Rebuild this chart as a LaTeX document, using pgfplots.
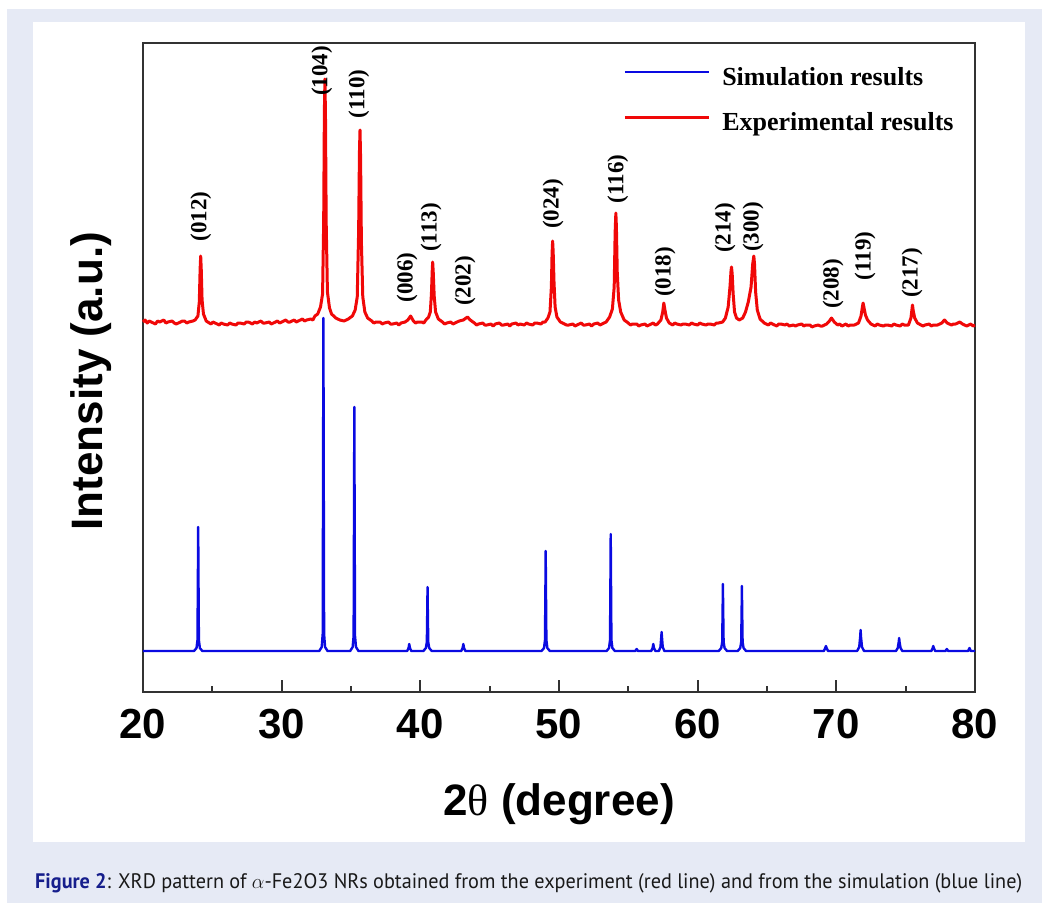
\documentclass[border=0pt]{standalone}
\usepackage{pgfplots}
\pgfplotsset{compat=1.18}
\usepackage{fontspec}
\usepackage{graphicx}
\setmainfont{Liberation Sans}
\newfontfamily\timesfont{Liberation Serif}
\newfontfamily\capfont{PT Sans}
\definecolor{bgblue}{RGB}{230,234,245}
\definecolor{figblue}{RGB}{22,30,140}
\definecolor{capgray}{RGB}{25,25,25}
\definecolor{xred}{RGB}{240,8,8}
\definecolor{xblue}{RGB}{10,10,225}
\definecolor{axgray}{RGB}{50,50,50}
\begin{document}
\begin{tikzpicture}[x=1pt,y=1pt]
\path[use as bounding box] (0,0) rectangle (1042,-903);
\fill[white] (0,0) rectangle (1042,-903);
\fill[bgblue] (7,-9) rectangle (1042,-903);
\fill[white] (33,-22) rectangle (1025,-842);
\begin{axis}[
  at={(143pt,-692pt)}, anchor=south west,
  scale only axis, width=832pt, height=649pt,
  xmin=20, xmax=80, ymin=0, ymax=649,
  axis line style={draw=axgray, line width=1.8pt},
  xtick={20,30,...,80}, minor xtick={25,35,...,75}, ytick=\empty,
  xtick pos=lower, tick align=inside,
  major tick length=12pt, minor tick length=6pt,
  every tick/.style={axgray, line width=1.8pt},
  /pgf/number format/assume math mode=true,
  xticklabel style={font=\bfseries\fontsize{42}{42}\selectfont, anchor=base, yshift=-46pt, inner sep=0pt},
  xlabel={\bfseries 2{\mdseries\timesfont θ} (degree)},
  xlabel style={font=\fontsize{44}{44}\selectfont, at={(axis description cs:0.5,0)}, anchor=base, yshift=-123pt},
  ylabel={\bfseries Intensity (a.u.)},
  ylabel style={font=\fontsize{44}{44}\selectfont, at={(axis description cs:-0.049,0.479)}, anchor=base, rotate=0},
  legend style={at={(axis description cs:0.577,0.963)}, anchor=north west, draw=none, fill=none,
    font=\timesfont\bfseries\fontsize{26}{26}\selectfont, inner sep=0pt, row sep=21pt, column sep=12pt,
    nodes={inner sep=0pt, text height=18pt, text depth=6pt}},
  legend cell align=left,
  legend image code/.code={\draw[#1] (0pt,7pt) -- (84pt,7pt);},
  clip=false,
]
\addplot[xblue, line width=2.4pt, line join=round] coordinates {
(20,41)
(23.68,41) (23.86,44) (23.93,52) (23.965,128) (23.98,165) (23.995,128) (24.03,52) (24.10,44) (24.28,41)
(32.71,41) (32.89,45) (32.96,58) (32.995,274) (33.01,374) (33.025,274) (33.06,58) (33.13,45) (33.31,41)
(34.94,41) (35.12,45) (35.19,56) (35.225,212) (35.24,285) (35.255,212) (35.29,56) (35.36,45) (35.54,41)
(39.05,41) (39.15,44) (39.2,48) (39.25,44) (39.35,41)
(40.22,41) (40.40,44) (40.47,50) (40.505,86) (40.52,105) (40.535,86) (40.57,50) (40.64,44) (40.82,41)
(42.95,41) (43.05,44) (43.1,48) (43.15,44) (43.25,41)
(48.74,41) (48.92,44) (48.99,52) (49.025,111) (49.04,141) (49.055,111) (49.09,52) (49.16,44) (49.34,41)
(53.43,41) (53.61,44) (53.68,52) (53.715,123) (53.73,158) (53.745,123) (53.78,52) (53.85,44) (54.03,41)
(55.5,41) (55.6,43) (55.7,41)
(56.65,41) (56.75,44) (56.8,48) (56.85,44) (56.95,41)
(57.2,41) (57.32,45) (57.38,56) (57.4,60) (57.42,56) (57.48,45) (57.6,41)
(61.52,41) (61.70,44) (61.77,50) (61.805,88) (61.82,108) (61.835,88) (61.87,50) (61.94,44) (62.12,41)
(62.89,41) (63.07,44) (63.14,50) (63.175,86) (63.19,106) (63.205,86) (63.24,50) (63.31,44) (63.49,41)
(69.1,41) (69.2,44) (69.25,46) (69.3,44) (69.4,41)
(71.5,41) (71.65,45) (71.72,55) (71.75,62) (71.78,55) (71.85,45) (72.0,41)
(74.3,41) (74.43,44) (74.5,50) (74.53,54) (74.56,50) (74.63,44) (74.76,41)
(76.85,41) (76.95,44) (76.99,46) (77.03,44) (77.13,41)
(77.87,41) (77.97,43) (78.07,41)
(79.5,41) (79.6,44) (79.7,41)
(80,41)
};
\addlegendentry{Simulation results}
\addplot[xred, line width=3pt, line join=round] coordinates {
(20.0,370) (20.15,372) (20.3,369) (20.45,371) (20.6,370) (20.9,368) (21.05,371) (21.2,370) (21.5,372) (21.65,369) (21.8,370) (22.1,371) (22.25,369) (22.4,368) (22.7,370) (22.85,371) (23.0,371) (23.15,369) (23.3,370) (23.6,371)
(23.76,372) (23.96,376) (24.06,390) (24.12,423) (24.16,436) (24.20,423) (24.26,392) (24.36,378) (24.56,371)
(24.9,368) (25.05,370) (25.2,369) (25.5,367) (25.65,369) (25.8,368) (26.1,367) (26.25,369) (26.4,368) (26.7,367) (26.85,369) (27.0,369) (27.3,368) (27.45,370) (27.6,370) (27.9,368) (28.05,370) (28.2,369) (28.5,371) (28.65,369) (28.8,369) (29.1,370) (29.25,368) (29.4,369) (29.7,371) (29.85,369) (30.0,370) (30.3,372) (30.45,370) (30.6,370) (30.9,372) (31.05,370) (31.2,371) (31.5,373) (31.65,371) (31.8,372) (32.1,373) (32.25,372) (32.4,376)
(32.6,378) (32.8,385) (32.95,398) (33.03,470) (33.08,580) (33.12,613) (33.16,575) (33.21,470) (33.3,400) (33.45,384) (33.6,378) (33.9,374) (34.2,372) (34.5,371) (34.8,373) (35.1,376) (35.3,382) (35.45,395)
(35.55,460) (35.61,540) (35.65,562) (35.69,535) (35.75,450) (35.85,395) (36.0,380) (36.2,374)
(36.5,371) (36.65,369) (36.8,370) (37.1,370) (37.25,368) (37.4,369) (37.7,370) (37.85,368) (38.0,368) (38.3,369) (38.45,367) (38.6,369) (38.9,370) (39.1,372)
(39.3,376) (39.5,371) (39.65,369) (39.8,370) (40.1,370) (40.25,369) (40.4,372) (40.6,375)
(40.72,380) (40.8,398) (40.86,422) (40.89,430) (40.93,420) (41.0,396) (41.1,380) (41.3,373)
(41.6,370) (41.75,368) (41.9,369) (42.2,370) (42.35,368) (42.5,369) (42.8,371) (43.1,372) (43.4,375) (43.6,372) (43.9,369) (44.05,367) (44.2,368) (44.5,369) (44.65,367) (44.8,367) (45.1,368) (45.25,366) (45.4,368) (45.7,369) (45.85,367) (46.0,367) (46.3,368) (46.45,366) (46.6,368) (46.9,369) (47.05,367) (47.2,368) (47.5,367) (47.65,369) (47.8,368) (48.1,367) (48.25,369) (48.4,369) (48.7,368) (48.85,370) (49.0,370) (49.2,374)
(49.35,380) (49.45,405) (49.5,438) (49.54,451) (49.58,440) (49.64,410) (49.72,385) (49.85,375) (50.1,370)
(50.4,368) (50.55,367) (50.7,367) (51.0,368) (51.15,366) (51.3,367) (51.6,369) (51.75,367) (51.9,367) (52.2,368) (52.35,366) (52.5,368) (52.8,369) (52.95,367) (53.1,368) (53.4,370) (53.65,375)
(53.85,383) (53.98,405) (54.05,460) (54.1,479) (54.14,465) (54.2,420) (54.3,392) (54.45,380) (54.7,372)
(55.0,369) (55.15,367) (55.3,368) (55.6,368) (55.75,366) (55.9,367) (56.2,368) (56.35,366) (56.5,367) (56.8,369) (56.95,367) (57.1,368) (57.35,372)
(57.48,380) (57.56,389) (57.64,382) (57.75,374) (57.95,369)
(58.2,367) (58.35,369) (58.5,368) (58.8,367) (58.95,368) (59.1,368) (59.4,367) (59.55,369) (59.7,368) (60.0,367) (60.15,369) (60.3,368) (60.6,367) (60.75,368) (60.9,368) (61.2,367) (61.35,369) (61.5,369) (61.8,370) (62.0,374) (62.2,385)
(62.33,405) (62.4,420) (62.44,425) (62.49,418) (62.56,398) (62.66,380) (62.8,374) (63.0,372) (63.25,374) (63.45,380)
(63.65,390) (63.85,405) (63.97,428) (64.05,436) (64.1,428) (64.18,400) (64.3,382) (64.5,373) (64.8,369)
(65.1,367) (65.25,369) (65.4,368) (65.7,366) (65.85,368) (66.0,368) (66.3,367) (66.45,368) (66.6,366) (66.9,367) (67.05,366) (67.2,367) (67.5,368) (67.65,366) (67.8,367) (68.1,367) (68.25,365) (68.4,366) (68.7,367) (68.85,366) (69.0,366) (69.3,368) (69.5,371)
(69.65,374) (69.85,370) (70.1,367) (70.25,368) (70.4,366) (70.7,368) (70.85,366) (71.0,367) (71.3,367) (71.45,368) (71.6,369) (71.78,376)
(71.87,384) (71.93,389) (72.0,384) (72.1,377) (72.25,372) (72.5,368)
(72.8,366) (72.95,368) (73.1,367) (73.4,366) (73.55,367) (73.7,367) (74.0,366) (74.15,368) (74.3,367) (74.6,366) (74.75,368) (74.9,367) (75.2,367) (75.38,374)
(75.45,382) (75.49,387) (75.55,381) (75.65,374) (75.85,369)
(76.1,367) (76.25,366) (76.4,367) (76.7,368) (76.85,366) (77.0,367) (77.3,367) (77.45,368) (77.6,369) (77.8,372) (78.0,369) (78.3,367) (78.45,368) (78.6,368) (78.9,370) (79.1,368) (79.25,367) (79.4,366) (79.7,368) (79.85,366) (80.0,367)
};
\addlegendentry{Experimental results}
\begin{scope}[every node/.style={rotate=90, font=\timesfont\bfseries\fontsize{23}{23}\selectfont, inner sep=0pt}]
\node at (axis cs:24.18,475.5) {(012)};
\node at (axis cs:32.90,621) {(104)};
\node at (axis cs:35.57,598) {(110)};
\node at (axis cs:39.04,414.5) {(006)};
\node at (axis cs:40.77,464.5) {(113)};
\node at (axis cs:43.22,411) {(202)};
\node at (axis cs:49.57,488) {(024)};
\node at (axis cs:54.25,513) {(116)};
\node at (axis cs:57.65,420) {(018)};
\node at (axis cs:61.97,464) {(214)};
\node at (axis cs:63.99,465) {(300)};
\node at (axis cs:69.76,408) {(208)};
\node at (axis cs:72.07,436) {(119)};
\node at (axis cs:75.46,419) {(217)};
\end{scope}
\end{axis}
\node[anchor=base west, inner sep=0pt, text=capgray] at (35,-888) {\resizebox{987pt}{\height}{\capfont\fontsize{21}{21}\selectfont\textbf{\color{figblue}Figure 2}: XRD pattern of $\alpha$-Fe2O3 NRs obtained from the experiment (red line) and from the simulation (blue line)}};
\end{tikzpicture}
\end{document}
